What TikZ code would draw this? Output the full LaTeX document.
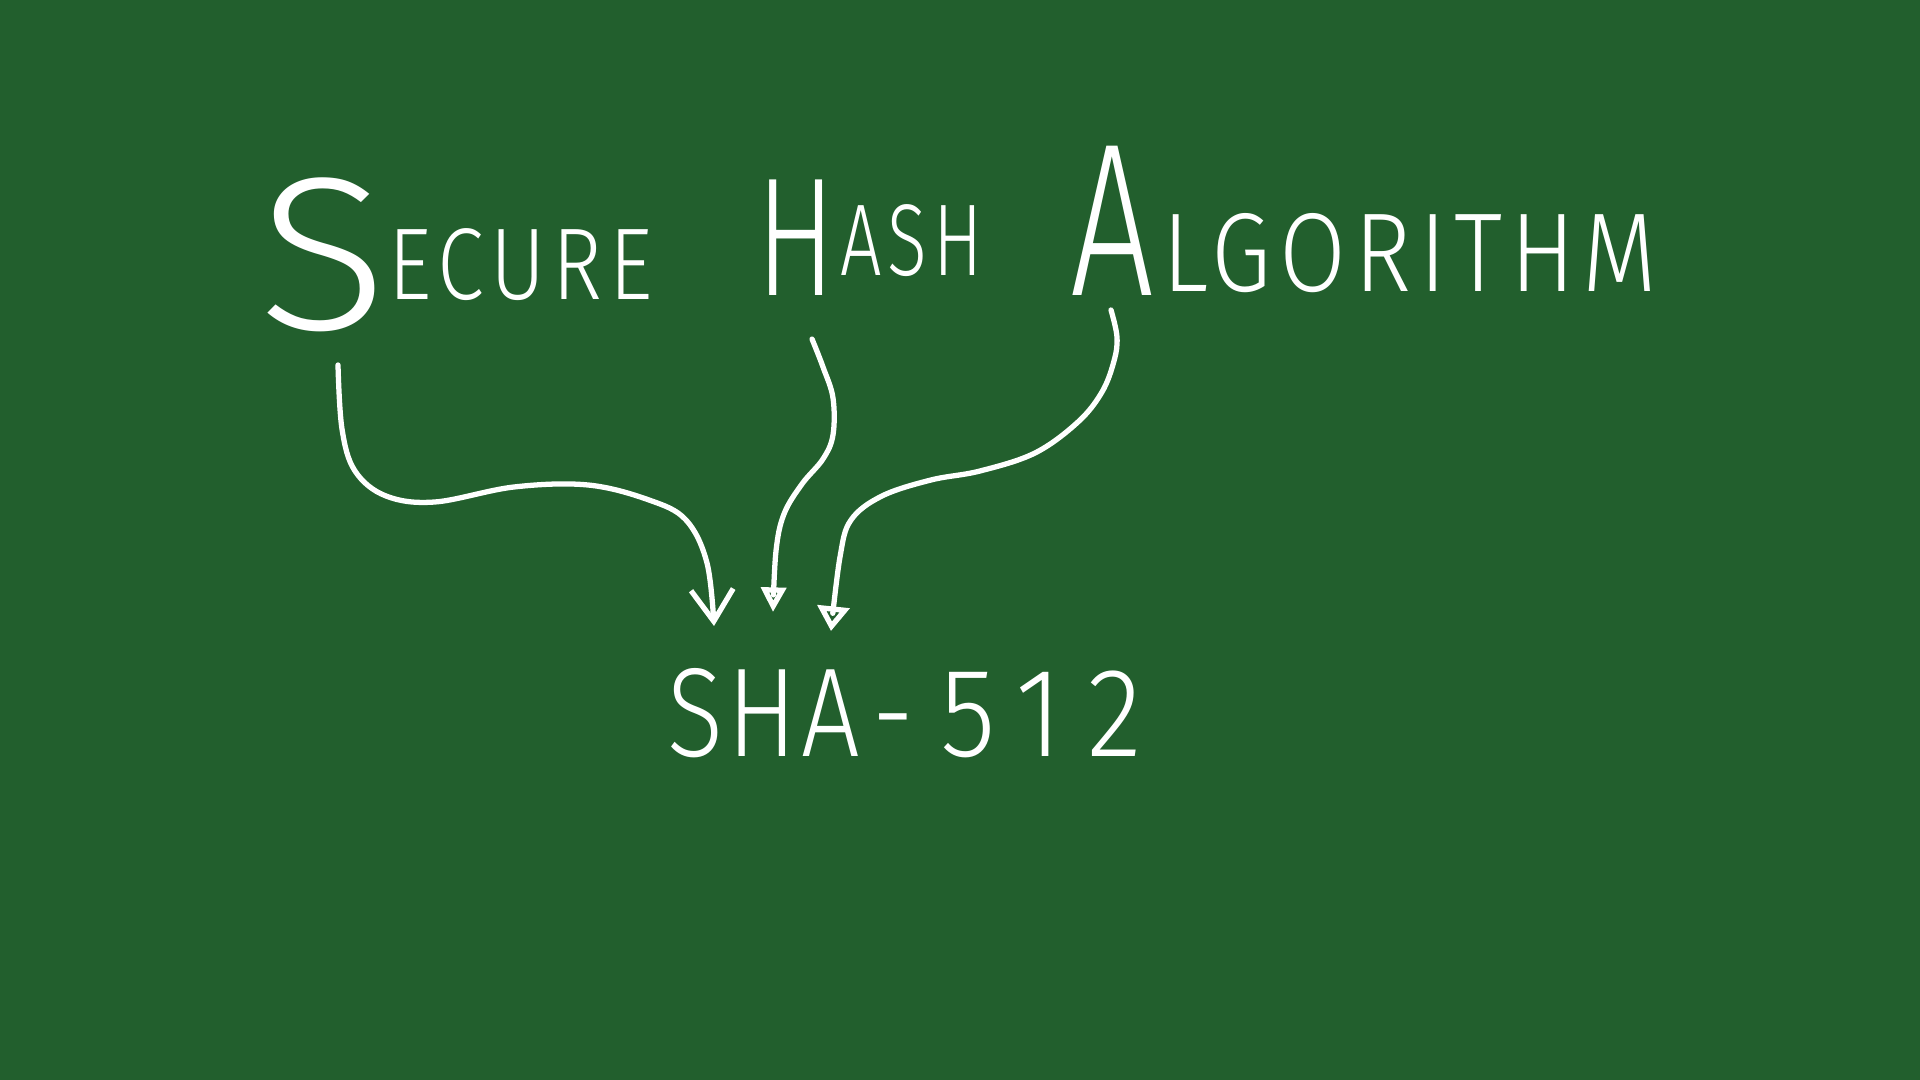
\documentclass[tikz,border=0pt]{standalone}
\usepackage{fontspec}
\setmainfont{Fira Sans Light}
\usetikzlibrary{arrows.meta}
\definecolor{board}{HTML}{225F2D}
\tikzset{
  chalk/.style={draw=white, line width=1.5pt, line cap=round, line join=round},
  word/.style={text=white, inner sep=0pt, anchor=base west},
}
\newcommand{\bigL}[1]{\fontsize{62}{62}\selectfont #1}
\newcommand{\smallL}[1]{\fontsize{29}{29}\selectfont\addfontfeatures{LetterSpace=8}#1}
\begin{document}
\begin{tikzpicture}[x=0.01cm, y=-0.01cm]
\useasboundingbox (0,0) rectangle (1920,1080);
\fill[board] (0,0) rectangle (1920,1080);
% words
\node[word] (s1) at (258,330) {\scalebox{1.1}[1]{\bigL{S}}};
\node[word] (s2) at (388,300) {\scalebox{0.83}[1]{\smallL{ECURE}}};
\node[word] (h1) at (756,296) {\scalebox{0.7}[1]{\fontsize{48}{48}\selectfont H}};
\node[word] (h2) at (840,276) {\scalebox{0.72}[1]{\smallL{ASH}}};
\node[word] (a1) at (1070,296) {\scalebox{0.68}[1]{\bigL{A}}};
\node[word] (a2) at (1162,292) {\scalebox{0.95}[1.1]{\smallL{LGORITHM}}};
\node[word] (sha) at (667,757) {\scalebox{0.82}[1]{\fontsize{36}{36}\selectfont\addfontfeatures{LetterSpace=4}SHA\hspace{0.12em}-\hspace{0.25em}{\addfontfeatures{LetterSpace=22}\scalebox{1.1}[1]{512}}}};
% connector ends
\coordinate (p1) at (338,365);
\coordinate (q1) at (714,626);
\coordinate (p2) at (812,339);
\coordinate (q2) at (773,612);
\coordinate (p3) at (1111,310);
\coordinate (q3) at (831,631);
\draw[chalk, -{Straight Barb[length=9pt, width=12pt, line width=1.5pt]}]
  plot[smooth, tension=0.6] coordinates {(p1) (342,429) (355,471) (386,496) (435,502) (514,487) (588,485) (649,500) (686,520) (707,563) (q1)};
\draw[chalk, -{Triangle[open, length=7pt, width=7pt, line width=1.5pt]}]
  plot[smooth, tension=0.6] coordinates {(p2) (823,367) (833,398) (833,435) (823,459) (802,484) (784,514) (776,551) (q2)};
\draw[chalk, -{Triangle[open, length=7pt, width=9pt, line width=1.5pt]}]
  plot[smooth, tension=0.6] coordinates {(p3) (1117,337) (1114,361) (1102,392) (1078,422) (1035,453) (980,471) (931,480) (882,496) (851,520) (840,557) (q3)};
\end{tikzpicture}
\end{document}
